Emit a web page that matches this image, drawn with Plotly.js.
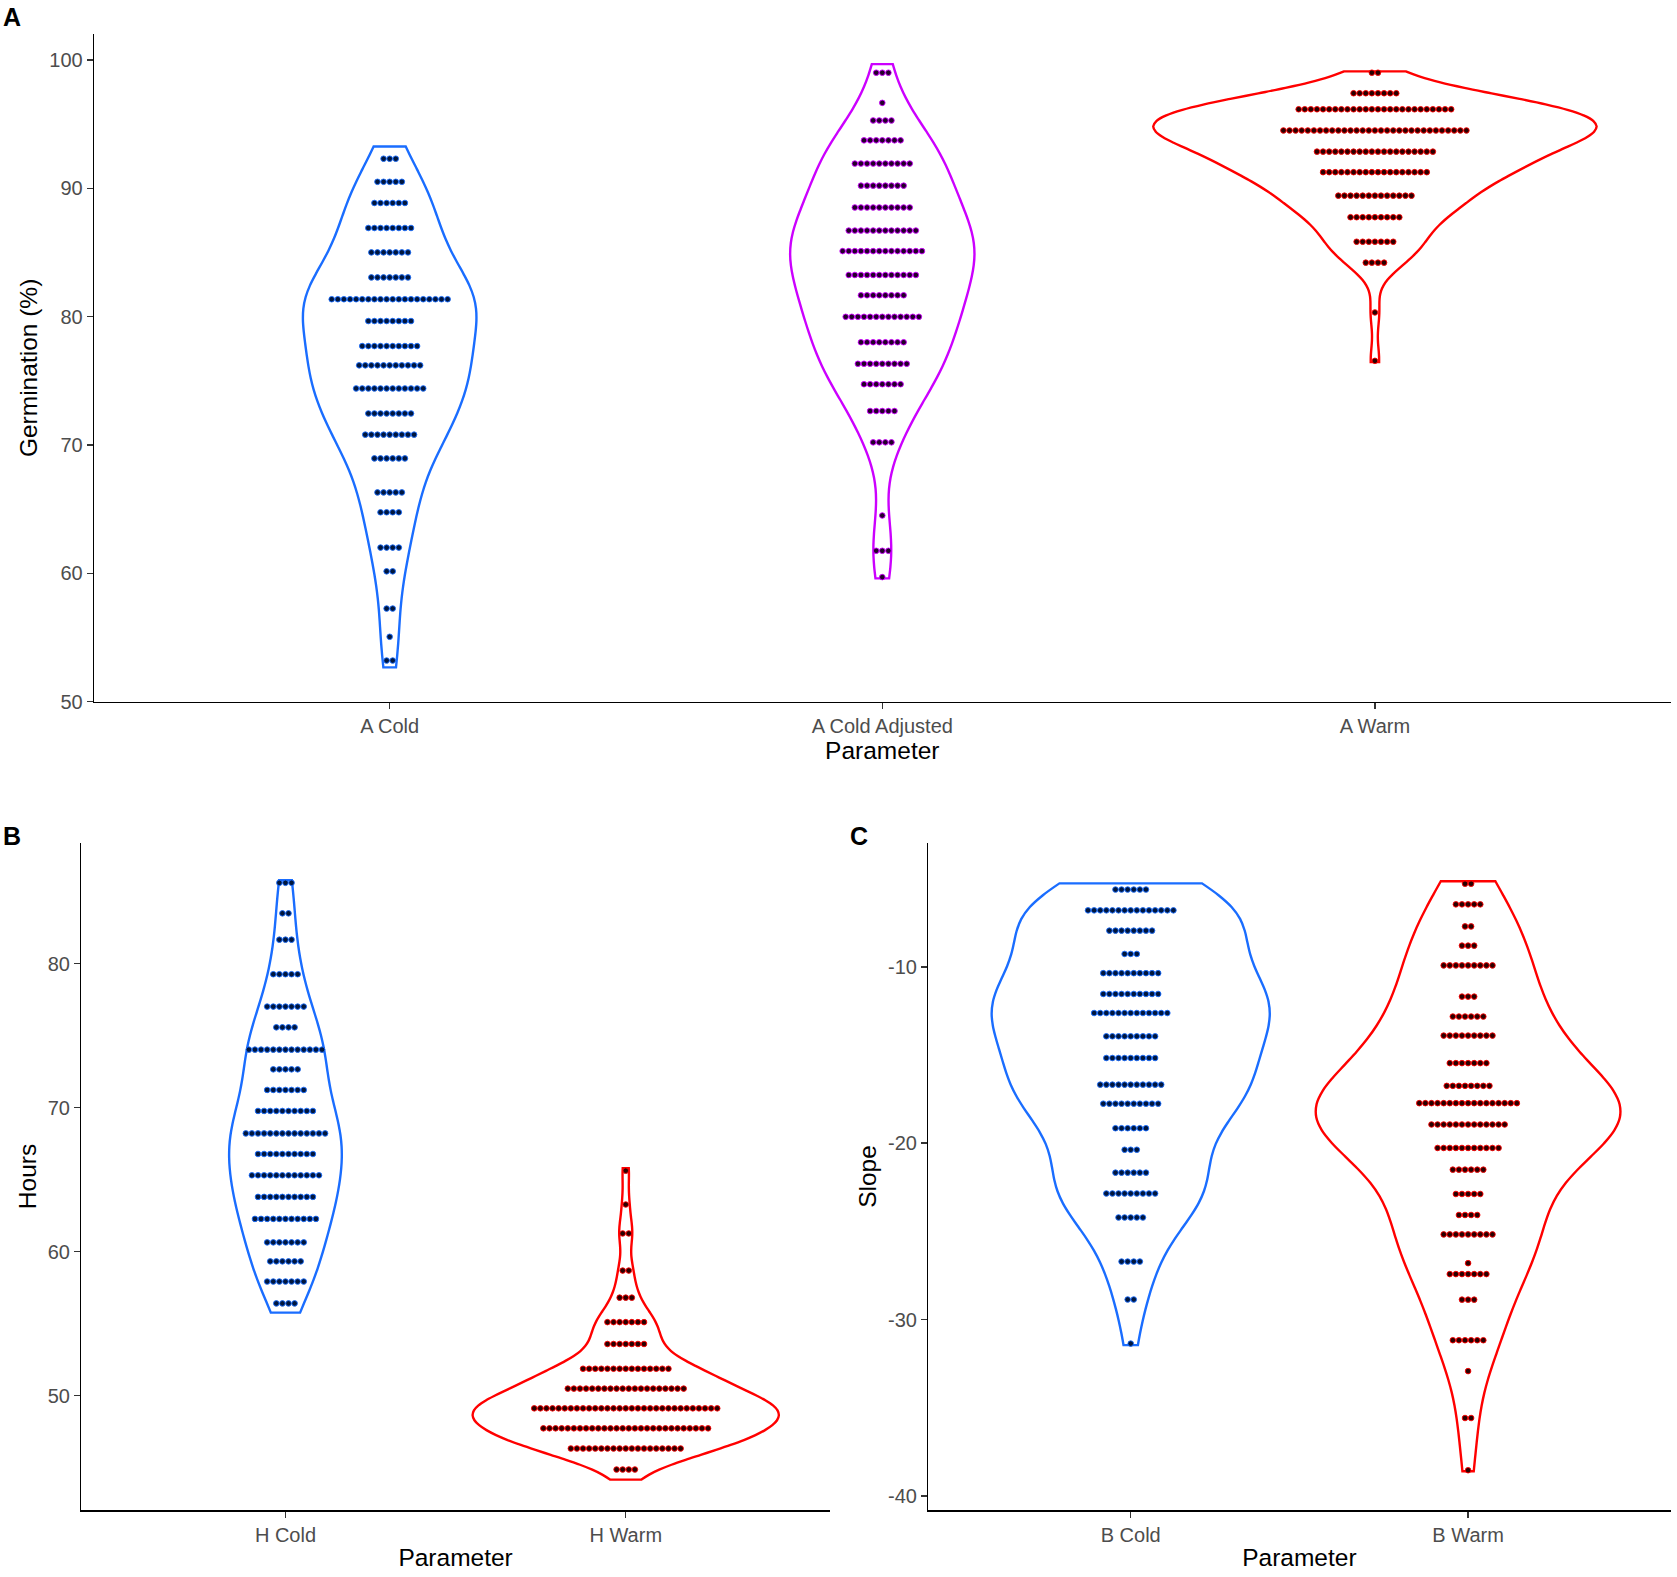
<!DOCTYPE html>
<html><head><meta charset="utf-8">
<script src="https://cdn.plot.ly/plotly-3.0.1.min.js"></script>
<style>body{margin:0;background:#fff}#chart{width:1677px;height:1577px}</style>
</head><body><div id="chart"></div>
<script>
// ---------- DATA ----------
// Panel A
const catsA = ['A Cold', 'A Cold Adjusted', 'A Warm'];
const aColdRows   = [92.3, 90.5, 88.85, 86.9, 85.0, 83.05, 81.35, 79.65, 77.7, 76.2, 74.4, 72.45, 70.8, 68.95, 66.3, 64.75, 62.0, 60.15, 57.25, 55.05, 53.2];
const aColdCounts = [3, 5, 6, 8, 7, 7, 20, 8, 10, 11, 12, 8, 9, 6, 5, 4, 4, 2, 2, 1, 2];
const aColdSpan   = [52.67, 93.25];
const aAdjRows    = [99.0, 96.65, 95.28, 93.73, 91.92, 90.2, 88.5, 86.7, 85.1, 83.24, 81.66, 79.98, 78.0, 76.32, 74.73, 72.64, 70.2, 64.5, 61.75, 59.7];
const aAdjCounts  = [3, 1, 4, 7, 10, 8, 10, 12, 14, 12, 8, 13, 8, 9, 7, 5, 4, 1, 3, 1];
const aAdjSpan    = [59.6, 99.67];
const aWarmRows   = [99.0, 97.4, 96.15, 94.5, 92.85, 91.25, 89.42, 87.74, 85.83, 84.2, 80.32, 76.55];
const aWarmCounts = [2, 8, 26, 31, 20, 18, 13, 9, 7, 4, 1, 1];
const aWarmSpan   = [76.45, 99.1];
const ticksA = [50, 60, 70, 80, 90, 100];

// Panel B
const catsB = ['H Cold', 'H Warm'];
const hColdRows   = [85.62, 83.5, 81.67, 79.27, 77.02, 75.58, 74.03, 72.66, 71.23, 69.77, 68.21, 66.78, 65.3, 63.8, 62.27, 60.64, 59.32, 57.92, 56.4];
const hColdCounts = [3, 2, 3, 5, 7, 4, 13, 5, 7, 10, 14, 10, 12, 10, 11, 7, 6, 7, 4];
const hColdSpan   = [55.76, 85.8];
const hWarmRows   = [65.62, 63.27, 61.26, 58.68, 56.8, 55.1, 53.58, 51.86, 50.48, 49.11, 47.72, 46.32, 44.86];
const hWarmCounts = [1, 1, 2, 2, 3, 7, 7, 15, 20, 31, 28, 19, 4];
const hWarmSpan   = [44.16, 65.8];
const ticksB = [50, 60, 70, 80];

// Panel C
const catsC = ['B Cold', 'B Warm'];
const bColdRows   = [-5.62, -6.8, -7.95, -9.27, -10.36, -11.54, -12.62, -13.94, -15.17, -16.68, -17.76, -19.15, -20.37, -21.67, -22.85, -24.21, -26.71, -28.86, -31.36];
const bColdCounts = [6, 15, 8, 3, 10, 10, 13, 9, 9, 11, 10, 6, 3, 6, 9, 5, 4, 2, 1];
const bColdSpan   = [-31.45, -5.27];
const bWarmRows   = [-5.29, -6.46, -7.71, -8.8, -9.92, -11.69, -12.82, -13.9, -15.46, -16.75, -17.73, -18.94, -20.27, -21.5, -22.88, -24.07, -25.17, -26.8, -27.42, -28.87, -31.17, -32.92, -35.58, -38.54];
const bWarmCounts = [2, 5, 2, 3, 9, 3, 6, 9, 7, 8, 17, 13, 11, 6, 5, 4, 9, 1, 7, 3, 6, 1, 2, 1];
const bWarmSpan   = [-38.6, -5.15];
const ticksC = [-40, -30, -20, -10];

// ---------- STYLE / LAYOUT ----------
const W = 1677, H = 1577;
const FONT = 'Liberation Sans, Arial, Helvetica, sans-serif';
const BLUE = '#1a6dff', PURPLE = '#cc00ff', RED = '#ff0000';
const DOT_FILL = {blue: '#00163d', purple: '#230029', red: '#2a0000'};
const DOT_STEP_PX = 6.1;
const MAX_WIDTH = 0.9;

const dom = {
  A: {x: [94.1 / W, 1670.5 / W], y: [1 - 701.6 / H, 1 - 34.2 / H], xr: [0.4, 3.6], yr: [50, 102]},
  B: {x: [81.3 / W, 829.9 / W], y: [1 - 1510.1 / H, 1 - 842.8 / H], xr: [0.4, 2.6], yr: [42.04, 88.4]},
  C: {x: [928.3 / W, 1670.5 / W], y: [1 - 1510.1 / H, 1 - 842.8 / H], xr: [0.4, 2.6], yr: [-40.8, -2.97]}
};

function expand(rows, counts) {
  const out = [];
  rows.forEach((v, i) => { for (let k = 0; k < counts[i]; k++) out.push(v); });
  return out;
}
function quantile(sorted, p) {
  const h = (sorted.length - 1) * p, lo = Math.floor(h), hi = Math.ceil(h);
  return sorted[lo] + (h - lo) * (sorted[hi] - sorted[lo]);
}
function nrd0(vals) {
  const n = vals.length;
  const mean = vals.reduce((a, b) => a + b, 0) / n;
  const sd = Math.sqrt(vals.reduce((a, b) => a + (b - mean) * (b - mean), 0) / (n - 1));
  const s = vals.slice().sort((a, b) => a - b);
  const iqr = quantile(s, 0.75) - quantile(s, 0.25);
  let lo = Math.min(sd, iqr / 1.34);
  if (!(lo > 0)) lo = sd || 1;
  return 0.9 * lo * Math.pow(n, -0.2);
}
function maxDensity(vals, bw, span) {
  const n = vals.length, N = 512;
  let best = 0;
  for (let j = 0; j < N; j++) {
    const t = span[0] + (span[1] - span[0]) * j / (N - 1);
    let s = 0;
    for (let i = 0; i < n; i++) { const z = (t - vals[i]) / bw; s += Math.exp(-0.5 * z * z); }
    s /= (n * bw * Math.sqrt(2 * Math.PI));
    if (s > best) best = s;
  }
  return best;
}

const groups = [
  {panel: 'A', ax: '',  pos: 1, rows: aColdRows, counts: aColdCounts, span: aColdSpan, line: BLUE,   fill: DOT_FILL.blue},
  {panel: 'A', ax: '',  pos: 2, rows: aAdjRows,  counts: aAdjCounts,  span: aAdjSpan,  line: PURPLE, fill: DOT_FILL.purple},
  {panel: 'A', ax: '',  pos: 3, rows: aWarmRows, counts: aWarmCounts, span: aWarmSpan, line: RED,    fill: DOT_FILL.red},
  {panel: 'B', ax: '2', pos: 1, rows: hColdRows, counts: hColdCounts, span: hColdSpan, line: BLUE,   fill: DOT_FILL.blue},
  {panel: 'B', ax: '2', pos: 2, rows: hWarmRows, counts: hWarmCounts, span: hWarmSpan, line: RED,    fill: DOT_FILL.red},
  {panel: 'C', ax: '3', pos: 1, rows: bColdRows, counts: bColdCounts, span: bColdSpan, line: BLUE,   fill: DOT_FILL.blue},
  {panel: 'C', ax: '3', pos: 2, rows: bWarmRows, counts: bWarmCounts, span: bWarmSpan, line: RED,    fill: DOT_FILL.red}
];

// density of each group (ggplot "area" scaling: width proportional to peak density within a panel)
const panelMax = {};
groups.forEach(g => {
  g.sample = expand(g.rows, g.counts);
  g.bw = nrd0(g.sample);
  g.maxD = maxDensity(g.sample, g.bw, g.span);
  panelMax[g.panel] = Math.max(panelMax[g.panel] || 0, g.maxD);
});

const traces = [];
groups.forEach((g, gi) => {
  traces.push({
    type: 'violin', x0: g.pos, y: g.sample,
    xaxis: 'x' + g.ax, yaxis: 'y' + g.ax,
    width: MAX_WIDTH * g.maxD / panelMax[g.panel],
    scalegroup: 'g' + gi, scalemode: 'width',
    spanmode: 'manual', span: g.span, bandwidth: g.bw,
    line: {color: g.line, width: 2.4}, fillcolor: 'rgba(0,0,0,0)',
    points: false, box: {visible: false}, meanline: {visible: false},
    hoverinfo: 'skip', showlegend: false
  });
});
groups.forEach(g => {
  const d = dom[g.panel];
  const unitsPerPx = (d.xr[1] - d.xr[0]) / ((d.x[1] - d.x[0]) * W);
  const step = DOT_STEP_PX * unitsPerPx;
  const xs = [], ys = [];
  g.rows.forEach((v, i) => {
    const n = g.counts[i];
    for (let k = 0; k < n; k++) { xs.push(g.pos + (k - (n - 1) / 2) * step); ys.push(v); }
  });
  traces.push({
    type: 'scatter', mode: 'markers', x: xs, y: ys,
    xaxis: 'x' + g.ax, yaxis: 'y' + g.ax,
    marker: {size: 5.6, color: g.fill, line: {color: g.line, width: 0.9}},
    hoverinfo: 'skip', showlegend: false
  });
});

function xAxis(panel, anchor, cats) {
  const d = dom[panel];
  return {
    domain: d.x, anchor: anchor, type: 'linear', range: d.xr,
    tickmode: 'array', tickvals: cats.map((c, i) => i + 1), ticktext: cats,
    showline: true, linecolor: '#000', linewidth: 1.4,
    ticks: 'outside', ticklen: 6, tickwidth: 1.4, tickcolor: '#333',
    showgrid: false, zeroline: false, automargin: false,
    tickfont: {family: FONT, size: 20, color: '#4d4d4d'},
    title: {text: 'Parameter', font: {family: FONT, size: 24.5, color: '#000'}, standoff: 4}
  };
}
function yAxis(panel, anchor, ticks, title) {
  const d = dom[panel];
  return {
    domain: d.y, anchor: anchor, type: 'linear', range: d.yr,
    tickmode: 'array', tickvals: ticks, ticktext: ticks.map(v => String(v)),
    showline: true, linecolor: '#000', linewidth: 1.4,
    ticks: 'outside', ticklen: 6, tickwidth: 1.4, tickcolor: '#333',
    showgrid: false, zeroline: false, automargin: false,
    tickfont: {family: FONT, size: 20, color: '#4d4d4d'},
    title: {text: title, font: {family: FONT, size: 24.5, color: '#000'}, standoff: 4}
  };
}

const letterFont = {family: FONT, size: 25, color: '#000'};
const layout = {
  width: W, height: H,
  margin: {l: 0, r: 0, t: 0, b: 0},
  paper_bgcolor: '#fff', plot_bgcolor: '#fff',
  showlegend: false,
  violinmode: 'overlay',
  xaxis: xAxis('A', 'y', catsA),
  yaxis: yAxis('A', 'x', ticksA, 'Germination (%)'),
  xaxis2: xAxis('B', 'y2', catsB),
  yaxis2: yAxis('B', 'x2', ticksB, 'Hours'),
  xaxis3: xAxis('C', 'y3', catsC),
  yaxis3: yAxis('C', 'x3', ticksC, 'Slope'),
  annotations: [
    {text: '<b>A</b>', xref: 'paper', yref: 'paper', x: 1 / W, y: 1 - 1 / H, xanchor: 'left', yanchor: 'top', showarrow: false, font: letterFont},
    {text: '<b>B</b>', xref: 'paper', yref: 'paper', x: 1 / W, y: 1 - 836 / H, xanchor: 'left', yanchor: 'middle', showarrow: false, font: letterFont},
    {text: '<b>C</b>', xref: 'paper', yref: 'paper', x: 848 / W, y: 1 - 836 / H, xanchor: 'left', yanchor: 'middle', showarrow: false, font: letterFont}
  ]
};

Plotly.newPlot('chart', traces, layout, {staticPlot: true, displayModeBar: false});
</script>
</body></html>
